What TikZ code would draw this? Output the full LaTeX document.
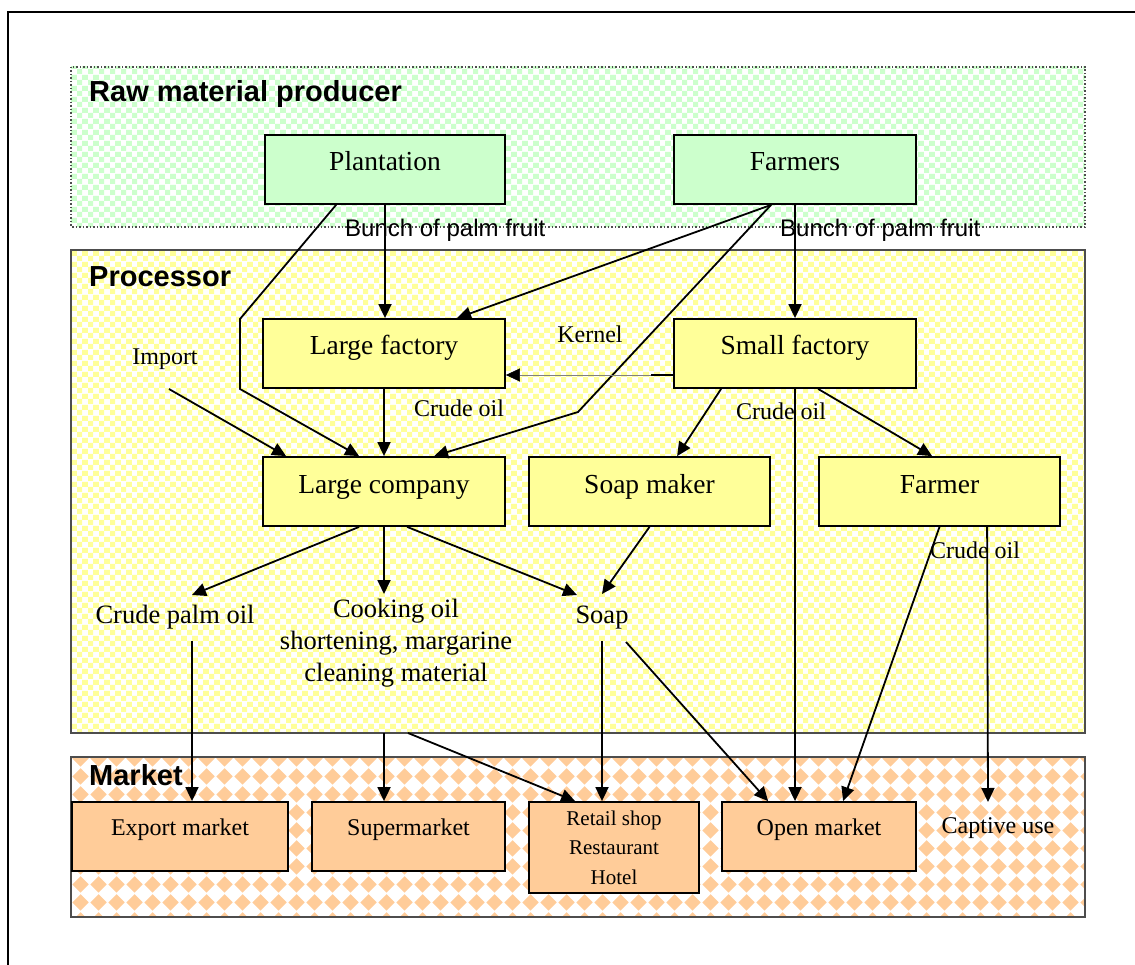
\documentclass[tikz,border=0pt]{standalone}
\usepackage{fontspec}
\setmainfont{Liberation Serif}
\setsansfont{Liberation Sans}
\usetikzlibrary{arrows.meta,calc,patterns.meta}

\definecolor{grn}{HTML}{CCFFCC}
\definecolor{ylw}{HTML}{FFFF99}
\definecolor{org}{HTML}{FFCC99}
\definecolor{rim}{HTML}{4D4D4D}

% small checkerboards and a diamond lattice for the three bands
\pgfdeclarepattern{name=greencheck, type=colored,
  bottom left={\pgfpointorigin}, top right={\pgfpoint{11pt}{11pt}},
  tile size={\pgfpoint{11pt}{11pt}},
  code={\pgfsetfillcolor{grn}
    \pgfpathrectangle{\pgfpointorigin}{\pgfpoint{5.5pt}{5.5pt}}
    \pgfpathrectangle{\pgfpoint{5.5pt}{5.5pt}}{\pgfpoint{5.5pt}{5.5pt}}
    \pgfusepath{fill}}}
\pgfdeclarepattern{name=yellowcheck, type=colored,
  bottom left={\pgfpointorigin}, top right={\pgfpoint{11pt}{11pt}},
  tile size={\pgfpoint{11pt}{11pt}},
  code={\pgfsetfillcolor{ylw}
    \pgfpathrectangle{\pgfpointorigin}{\pgfpoint{5.5pt}{5.5pt}}
    \pgfpathrectangle{\pgfpoint{5.5pt}{5.5pt}}{\pgfpoint{5.5pt}{5.5pt}}
    \pgfusepath{fill}}}
\pgfdeclarepattern{name=orangediamond, type=colored,
  bottom left={\pgfpointorigin}, top right={\pgfpoint{18pt}{18pt}},
  tile size={\pgfpoint{18pt}{18pt}},
  code={\pgfsetfillcolor{org}
    \pgfpathmoveto{\pgfpoint{9pt}{0.4pt}}
    \pgfpathlineto{\pgfpoint{17.6pt}{9pt}}
    \pgfpathlineto{\pgfpoint{9pt}{17.6pt}}
    \pgfpathlineto{\pgfpoint{0.4pt}{9pt}}
    \pgfpathclose
    \pgfusepath{fill}}}

\tikzset{
  every node/.style={inner sep=0pt},
  conn/.style={line width=1.8pt, -{Triangle[length=14pt,width=13pt]}},
  boxbase/.style={draw, line width=1.8pt, anchor=base},
  gbox/.style={boxbase, fill=grn, text height=36pt, text depth=33pt,
    font=\fontsize{27.5}{33}\selectfont},
  ybox/.style={boxbase, fill=ylw, text height=36pt, text depth=33pt,
    font=\fontsize{27.5}{33}\selectfont},
  mbox/.style={boxbase, fill=org, text height=33pt, text depth=36pt,
    font=\fontsize{24}{29}\selectfont},
  band/.style={anchor=base west, font=\sffamily\bfseries\fontsize{29}{35}\selectfont},
  flow/.style={anchor=base, font=\sffamily\fontsize{24}{29}\selectfont},
  note/.style={anchor=base, font=\fontsize{24}{29}\selectfont},
  product/.style={anchor=base, font=\fontsize{26.5}{32}\selectfont},
}

\begin{document}
\begin{tikzpicture}[x=1pt, y=-1pt]
\useasboundingbox (0,0) rectangle (1135,965);

% page frame
\draw[line width=2pt] (8,975) -- (8,12) -- (1145,12);

% bands
\fill[white] (71,67) rectangle (1085,227);
\fill[pattern=greencheck] (71,67) rectangle (1085,227);
\draw[rim, line width=1.5pt, dotted] (71,67) rectangle (1085,227);

\fill[white] (71,250) rectangle (1085,733);
\fill[pattern=yellowcheck] (71,250) rectangle (1085,733);
\draw[rim, line width=2pt] (71,250) rectangle (1085,733);

\fill[white] (71,757) rectangle (1085,917);
\fill[pattern=orangediamond] (71,757) rectangle (1085,917);
\draw[rim, line width=2pt] (71,757) rectangle (1085,917);

\node[band] (traw) at (89,102) {Raw material producer};
\node[band] (tproc) at (89,287) {Processor};
\node[band] (tmkt) at (89,785) {Market};

% producers
\node[gbox, minimum width=240pt] (pl) at (385,171) {Plantation};
\node[gbox, minimum width=242pt] (fa) at (795,171) {Farmers};

% processors
\node[ybox, minimum width=242pt] (lf) at (384,355) {Large factory};
\node[ybox, minimum width=242pt] (sf) at (795,355) {Small factory};
\node[ybox, minimum width=242pt] (lc) at (384,493) {Large company};
\node[ybox, minimum width=241pt] (sm) at (649.5,493) {Soap maker};
\node[ybox, minimum width=241pt] (fm) at (939.5,493) {Farmer};

% markets
\node[mbox, minimum width=216pt] (ex) at (180,835) {Export market};
\node[mbox, minimum width=193pt] (su) at (408.5,835) {Supermarket};
\node[mbox, minimum width=194pt] (om) at (819,835) {Open market};
\node[draw, line width=1.8pt, fill=org, minimum width=170pt, minimum height=91pt,
  align=center, font=\fontsize{21}{29.5}\selectfont] (rt) at (614,847.5)
  {Retail shop\\Restaurant\\Hotel};
\node[note] (cap) at (998,833) {Captive use};

% flow labels
\node[flow, anchor=base west] (bunch1) at (345,237) {Bunch of palm fruit};
\node[flow, anchor=base west] (bunch2) at (780,237) {Bunch of palm fruit};
\node[note] (imp) at (165,365) {Import};
\node[note] (ker) at (590,343) {Kernel};
\node[note] (co1) at (459,417) {Crude oil};
\node[note] (co2) at (781,419) {Crude oil};
\node[note] (co3) at (975,558) {Crude oil};

% products
\node[product] (cpo) at (175,623) {Crude palm oil};
\node[font=\fontsize{26.5}{32}\selectfont, align=center] (cook) at (396,643)
  {Cooking oil\\shortening, margarine\\cleaning material};
\node[product] (soap) at (602,623) {Soap};

% free ends of connectors
\coordinate (pb1) at (240,319);
\coordinate (pb2) at (240,389);
\coordinate (impout) at (169,389);
\coordinate (fb) at (578,412);
\coordinate (kst) at (651,375);
\coordinate (cpoin) at (192,595);
\coordinate (cookin) at (384,594);
\coordinate (soapinl) at (577,595);
\coordinate (soapinr) at (602,594);
\coordinate (cpoout) at (192,641);
\coordinate (cookout) at (384,733);
\coordinate (cookout2) at (408,733);
\coordinate (soapout) at (602,641);
\coordinate (soapout2) at (626,642);
\coordinate (capin) at (988,802);

% raw material flows
\draw[conn] (pl.south) -- (pl.south |- lf.north);
\draw[conn] ($(pl.south west)+(72,0)$) -- (pb1) -- (pb2) -- ($(lc.north west)+(97,0)$);
\draw[conn] ($(fa.south west)+(98,0)$) -- ($(lf.north west)+(195,0)$);
\draw[conn] ($(fa.south west)+(98,0)$) -- (fb) -- ($(lc.north west)+(172,0)$);
\draw[conn] (fa.south) -- (fa.south |- sf.north);
\draw[conn] (impout) -- ($(lc.north west)+(24,0)$);

% processing flows
\draw[conn] (lf.south) -- (lc.north);
\draw[line width=1.8pt] (sf.west |- kst) -- (kst);
\draw[line width=0.6pt, gray, -{Triangle[length=14pt,width=13pt,color=black]}]
  (kst) -- (lf.east |- kst);
\draw[conn] ($(sf.south west)+(48,0)$) -- ($(sm.north west)+(149,0)$);
\draw[conn] ($(sf.south west)+(145,0)$) -- ($(fm.north west)+(114,0)$);
\draw[conn] (sf.south) -- (sf.south |- om.north);

% products
\draw[conn] ($(lc.south west)+(97,0)$) -- (cpoin);
\draw[conn] (lc.south) -- (cookin);
\draw[conn] ($(lc.south west)+(145,0)$) -- (soapinl);
\draw[conn] (sm.south) -- (soapinr);

% to markets
\draw[conn] (cpoout) -- (cpoout |- ex.north);
\draw[conn] (cookout) -- (cookout |- su.north);
\draw[conn] (cookout2) -- ($(rt.north west)+(47,0)$);
\draw[conn] (soapout) -- (soapout |- rt.north);
\draw[conn] (soapout2) -- ($(om.north west)+(47,0)$);
\draw[conn] (fm.south) -- ($(om.north west)+(122,0)$);
\draw[conn] ($(fm.south west)+(169,0)$) -- (capin);
\end{tikzpicture}
\end{document}
